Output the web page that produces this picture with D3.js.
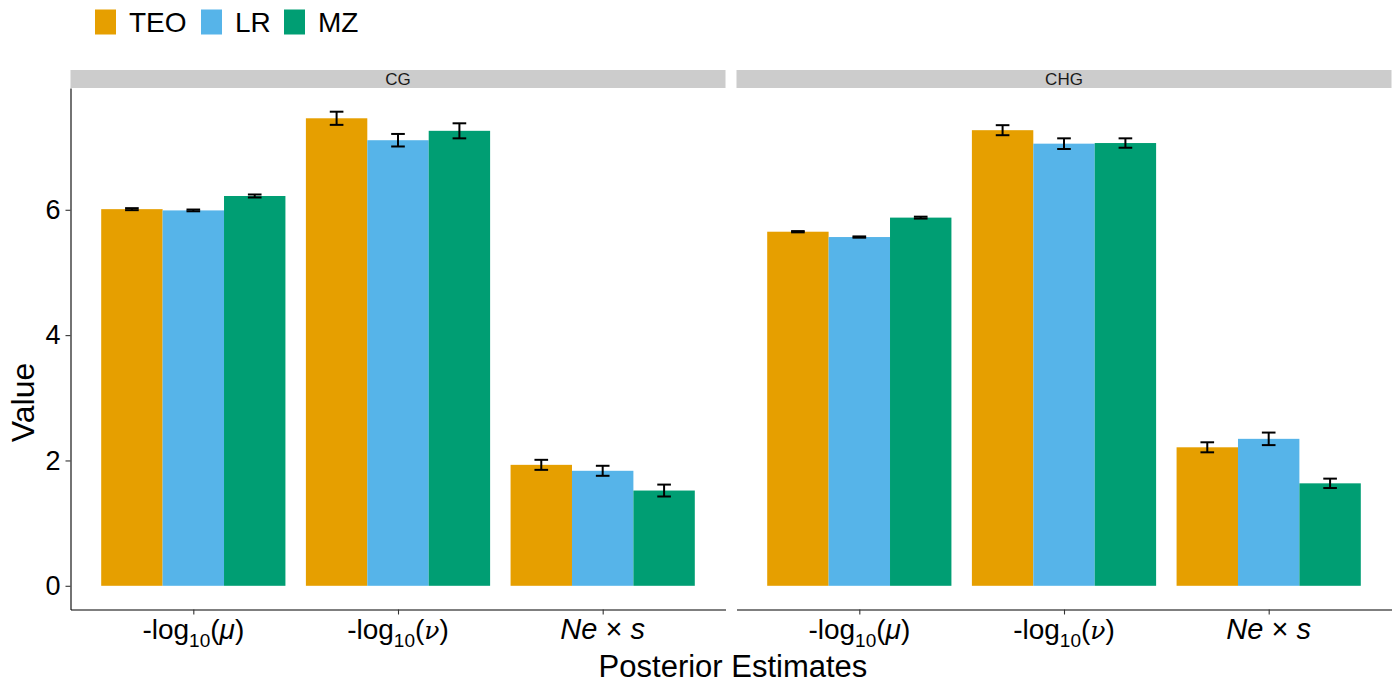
<!DOCTYPE html>
<html>
<head>
<meta charset="utf-8">
<script src="https://cdn.jsdelivr.net/npm/d3@7"></script>
<style>
  html, body { margin: 0; padding: 0; background: #fff; }
  svg { display: block; font-family: "Liberation Sans", Arial, Helvetica, sans-serif; }
</style>
</head>
<body>
<svg id="chart" width="1395" height="685"></svg>
<script>
// ---- Data ----
const panels = ["CG", "CHG"];
const categories = ["mu", "nu", "Nes"];
const series = ["TEO", "LR", "MZ"];
const seriesColors = ["#E69F00", "#56B4E9", "#009E73"];
const yTicks = [0, 2, 4, 6];

// values [panel][series][category]
const cgTEO = [6.01, 7.46, 1.93];
const cgLR  = [5.99, 7.11, 1.835];
const cgMZ  = [6.22, 7.26, 1.52];
const cgTEOerr = [0.016, 0.105, 0.08];
const cgLRerr  = [0.014, 0.10, 0.08];
const cgMZerr  = [0.024, 0.12, 0.095];

const chgTEO = [5.65, 7.27, 2.21];
const chgLR  = [5.565, 7.055, 2.345];
const chgMZ  = [5.875, 7.065, 1.635];
const chgTEOerr = [0.01, 0.08, 0.08];
const chgLRerr  = [0.01, 0.085, 0.10];
const chgMZerr  = [0.015, 0.075, 0.075];

const panelValues = { CG: [cgTEO, cgLR, cgMZ], CHG: [chgTEO, chgLR, chgMZ] };
const panelErrors = { CG: [cgTEOerr, cgLRerr, cgMZerr], CHG: [chgTEOerr, chgLRerr, chgMZerr] };

// ---- Layout ----
const svg = d3.select("#chart");
const panelTop = 88, panelBottom = 609.5;
const panelX = [[70.5, 725.5], [736.5, 1391.5]];
const stripH = 18;

const rows = [];
panels.forEach(p => series.forEach((s, si) => categories.forEach((c, ci) => {
  rows.push({ panel: p, series: s, si, cat: c, value: panelValues[p][si][ci], err: panelErrors[p][si][ci] });
})));

const ymax = d3.max(rows, d => d.value + d.err);
const y = d3.scaleLinear().domain([-0.05 * ymax, ymax * 1.05]).range([panelBottom, panelTop]);
const color = d3.scaleOrdinal().domain(series).range(seriesColors);

panels.forEach((p, pi) => {
  const [x0, x1] = panelX[pi];
  const x = d3.scalePoint().domain(categories).range([x0, x1]).padding(0.6);
  const groupW = x.step() * 0.9;
  const xs = d3.scaleBand().domain(series).range([-groupW / 2, groupW / 2]).padding(0);

  const g = svg.append("g");

  // strip
  g.append("rect").attr("x", x0).attr("y", panelTop - stripH).attr("width", x1 - x0).attr("height", stripH)
    .attr("fill", "#CCCCCC");
  g.append("text").attr("x", (x0 + x1) / 2).attr("y", panelTop - 3).attr("text-anchor", "middle")
    .attr("font-size", 17).attr("fill", "#1a1a1a").text(p);

  const data = rows.filter(d => d.panel === p);

  // bars
  g.selectAll("rect.bar").data(data).join("rect").attr("class", "bar")
    .attr("x", d => x(d.cat) + xs(d.series))
    .attr("width", xs.bandwidth())
    .attr("y", d => y(Math.max(0, d.value)))
    .attr("height", d => Math.abs(y(d.value) - y(0)))
    .attr("fill", d => color(d.series));

  // error bars
  const capW = xs.bandwidth() * 0.2 / 0.9;
  const eb = g.selectAll("g.eb").data(data).join("g").attr("class", "eb")
    .attr("stroke", "#000").attr("stroke-width", 2);
  eb.append("line")
    .attr("x1", d => x(d.cat) + xs(d.series) + xs.bandwidth() / 2)
    .attr("x2", d => x(d.cat) + xs(d.series) + xs.bandwidth() / 2)
    .attr("y1", d => y(d.value - d.err)).attr("y2", d => y(d.value + d.err));
  eb.append("line")
    .attr("x1", d => x(d.cat) + xs(d.series) + xs.bandwidth() / 2 - capW / 2)
    .attr("x2", d => x(d.cat) + xs(d.series) + xs.bandwidth() / 2 + capW / 2)
    .attr("y1", d => y(d.value - d.err)).attr("y2", d => y(d.value - d.err));
  eb.append("line")
    .attr("x1", d => x(d.cat) + xs(d.series) + xs.bandwidth() / 2 - capW / 2)
    .attr("x2", d => x(d.cat) + xs(d.series) + xs.bandwidth() / 2 + capW / 2)
    .attr("y1", d => y(d.value + d.err)).attr("y2", d => y(d.value + d.err));

  // x axis
  const xAxis = d3.axisBottom(x).tickSize(5).tickSizeOuter(0).tickFormat("");
  const ax = g.append("g").attr("transform", `translate(0,${panelBottom})`).call(xAxis);
  ax.select(".domain").attr("stroke", "#000").attr("stroke-width", 1.1);
  ax.selectAll(".tick line").attr("stroke", "#333").attr("stroke-width", 1.1);

  // x tick labels (math-like)
  categories.forEach(c => {
    const t = g.append("text").attr("x", x(c)).attr("y", 639).attr("text-anchor", "middle")
      .attr("font-size", 28).attr("fill", "#000");
    if (c === "mu" || c === "nu") {
      t.append("tspan").text("-log");
      t.append("tspan").attr("font-size", 19).attr("dy", 8).text("10");
      t.append("tspan").attr("dy", -8).text("(");
      t.append("tspan").attr("font-style", "italic").attr("font-family", c === "nu" ? "'DejaVu Serif', serif" : null)
        .attr("font-size", c === "nu" ? 25 : null)
        .text(c === "mu" ? "\u03BC" : "\u03BD");
      t.append("tspan").text(")");
    } else {
      t.attr("font-size", 29);
      t.append("tspan").attr("font-style", "italic").text("Ne");
      t.append("tspan").text(" \u00D7 ");
      t.append("tspan").attr("font-style", "italic").text("s");
    }
  });

  // y axis (left panel only)
  if (pi === 0) {
    const yAxis = d3.axisLeft(y).tickValues(yTicks).tickSize(5).tickSizeOuter(0).tickPadding(5);
    const ay = g.append("g").attr("transform", `translate(${x0},0)`).call(yAxis);
    ay.select(".domain").attr("stroke", "#000").attr("stroke-width", 1.1);
    ay.selectAll(".tick line").attr("stroke", "#333").attr("stroke-width", 1.1);
    ay.selectAll(".tick text").attr("font-size", 27).attr("fill", "#000")
      .attr("font-family", "'Liberation Sans', Arial, sans-serif");
  }
});

// axis titles
svg.append("text").attr("x", 733).attr("y", 677).attr("text-anchor", "middle")
  .attr("font-size", 31).attr("fill", "#000").text("Posterior Estimates");
svg.append("text").attr("transform", "translate(34,402.5) rotate(-90)").attr("text-anchor", "middle")
  .attr("font-size", 32).attr("fill", "#000").text("Value");

// legend
const legendX = [95, 201, 284];
const leg = svg.append("g");
series.forEach((s, i) => {
  leg.append("rect").attr("x", legendX[i]).attr("y", 9.5).attr("width", 21).attr("height", 25)
    .attr("fill", color(s));
  leg.append("text").attr("x", legendX[i] + 34).attr("y", 32).attr("font-size", 28).attr("fill", "#000").text(s);
});
</script>
</body>
</html>
